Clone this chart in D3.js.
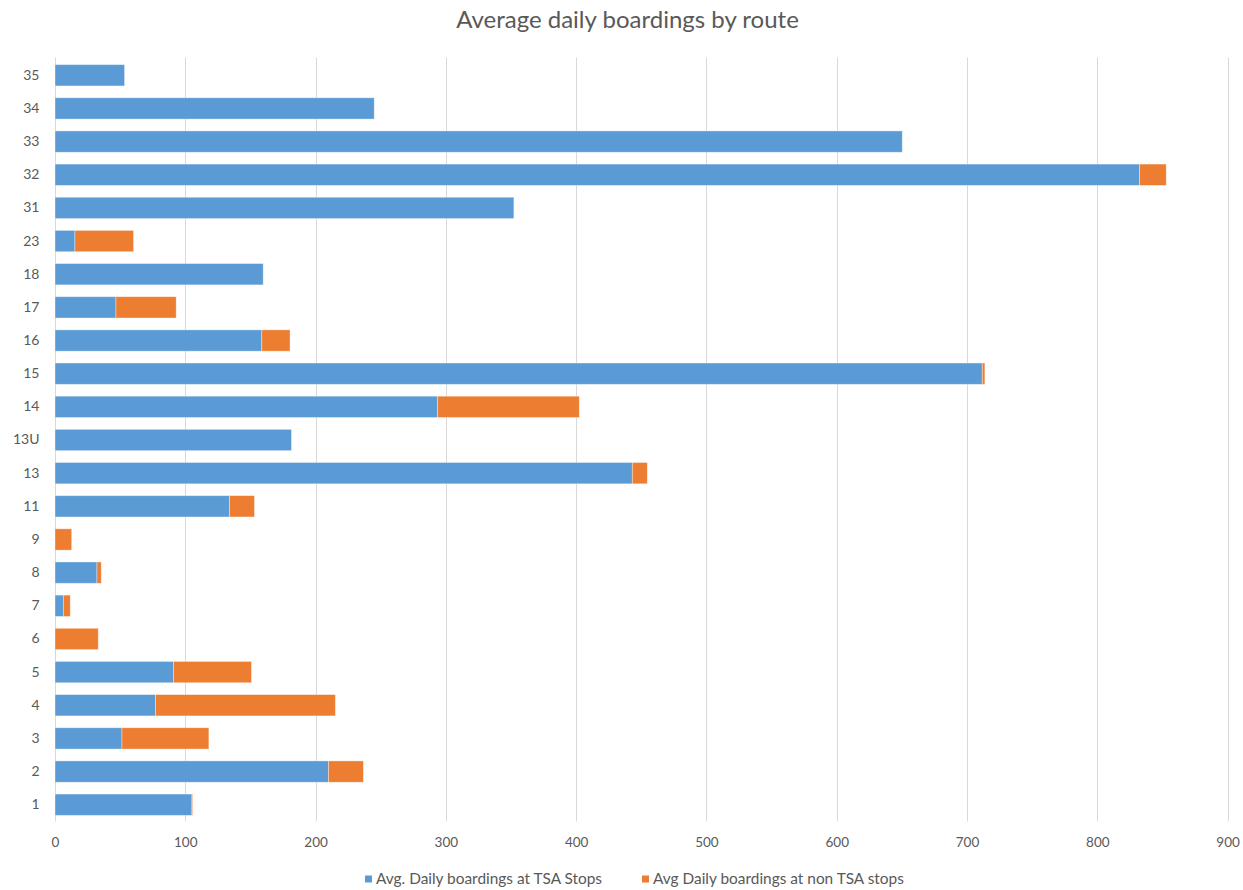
<!DOCTYPE html>
<html>
<head>
<meta charset="utf-8">
<script src="https://cdn.jsdelivr.net/npm/d3@7"></script>
<style>
  html, body { margin: 0; padding: 0; background: #fff; }
  svg { display: block; }
  text { font-family: Lato, "Open Sans", sans-serif; fill: #595959; }
</style>
</head>
<body>
<svg id="chart" width="1243" height="890"></svg>
<script>
const routes = ["1","2","3","4","5","6","7","8","9","11","13","13U","14","15","16","17","18","23","31","32","33","34","35"];
const tsaBoardings = [105.1, 209.9, 51.4, 77.2, 91, 0, 6.4, 32.2, 0, 134, 443.1, 181.5, 293.7, 711.7, 158.7, 46.8, 159.8, 15.3, 352.2, 832.4, 650.3, 245, 53.4];
const nonTsaBoardings = [0.5, 26.8, 66.7, 138, 59.8, 33.2, 5.3, 3.3, 12.8, 19.1, 11.5, 0, 108.7, 2, 21.7, 46.2, 0, 45, 0, 20.5, 0, 0, 0];
const seriesNames = ["Avg. Daily boardings at TSA Stops", "Avg Daily boardings at non TSA stops"];
const seriesColors = ["#5B9BD5", "#ED7D31"];
const xTicks = [0, 100, 200, 300, 400, 500, 600, 700, 800, 900];
const chartTitle = "Average daily boardings by route";

(function () {
const svg = d3.select("#chart");
const pLeft = 55, pRight = 1227.6, pTop = 58.7, pBottom = 821.3;

const x = d3.scaleLinear().domain([0, 900]).range([pLeft, pRight]);
const y = d3.scaleBand().domain(routes.slice().reverse()).range([pTop, pBottom])
  .paddingInner(0.357).paddingOuter(0.357 / 2);

// gridlines
svg.append("g").selectAll("line").data(xTicks).join("line")
  .attr("x1", d => Math.round(x(d)) + 0.5).attr("x2", d => Math.round(x(d)) + 0.5)
  .attr("y1", pTop - 1).attr("y2", pBottom)
  .attr("stroke", "#d9d9d9").attr("stroke-width", 1);

// stacked data
const rows = routes.map((r, i) => ({ route: r, tsa: tsaBoardings[i], non: nonTsaBoardings[i] }));
const stack = d3.stack().keys(["tsa", "non"])(rows);

svg.append("g").selectAll("g").data(stack).join("g")
  .attr("fill", (d, i) => seriesColors[i])
  .selectAll("rect").data(d => d.filter(s => s[1] - s[0] > 0)).join("rect")
  .attr("x", d => x(d[0]))
  .attr("width", d => x(d[1]) - x(d[0]))
  .attr("y", d => y(d.data.route))
  .attr("height", y.bandwidth())
  .attr("stroke", "#ffffff").attr("stroke-opacity", 0.45).attr("stroke-width", 0.8);

// x axis labels
const xAxis = d3.axisBottom(x).tickValues(xTicks).tickSize(0).tickPadding(0);
const gx = svg.append("g").attr("transform", `translate(0,${pBottom + 16})`).call(xAxis);
gx.select(".domain").remove();
gx.selectAll("text").attr("font-size", 13.5).attr("dy", "0.71em")
  .style("font-family", "Lato, sans-serif").attr("fill", "#595959");

// y axis labels
const yAxis = d3.axisLeft(y).tickSize(0).tickPadding(0);
const gy = svg.append("g").attr("transform", `translate(${39.5},0)`).call(yAxis);
gy.select(".domain").remove();
gy.selectAll("text").attr("font-size", 14)
  .style("font-family", "Lato, sans-serif").attr("fill", "#595959");

// title
svg.append("text").attr("x", 627.5).attr("y", 27.5).attr("text-anchor", "middle")
  .attr("font-size", 24).text(chartTitle);

// legend
const legendX = [365, 642];
const lg = svg.append("g").selectAll("g").data(seriesNames).join("g")
  .attr("transform", (d, i) => `translate(${legendX[i]},879)`);
lg.append("rect").attr("x", 0).attr("y", -3.5).attr("width", 7).attr("height", 7)
  .attr("fill", (d, i) => seriesColors[i]);
lg.append("text").attr("x", 11).attr("dy", "0.35em").attr("font-size", 15.4).text(d => d);
})();
</script>
</body>
</html>
